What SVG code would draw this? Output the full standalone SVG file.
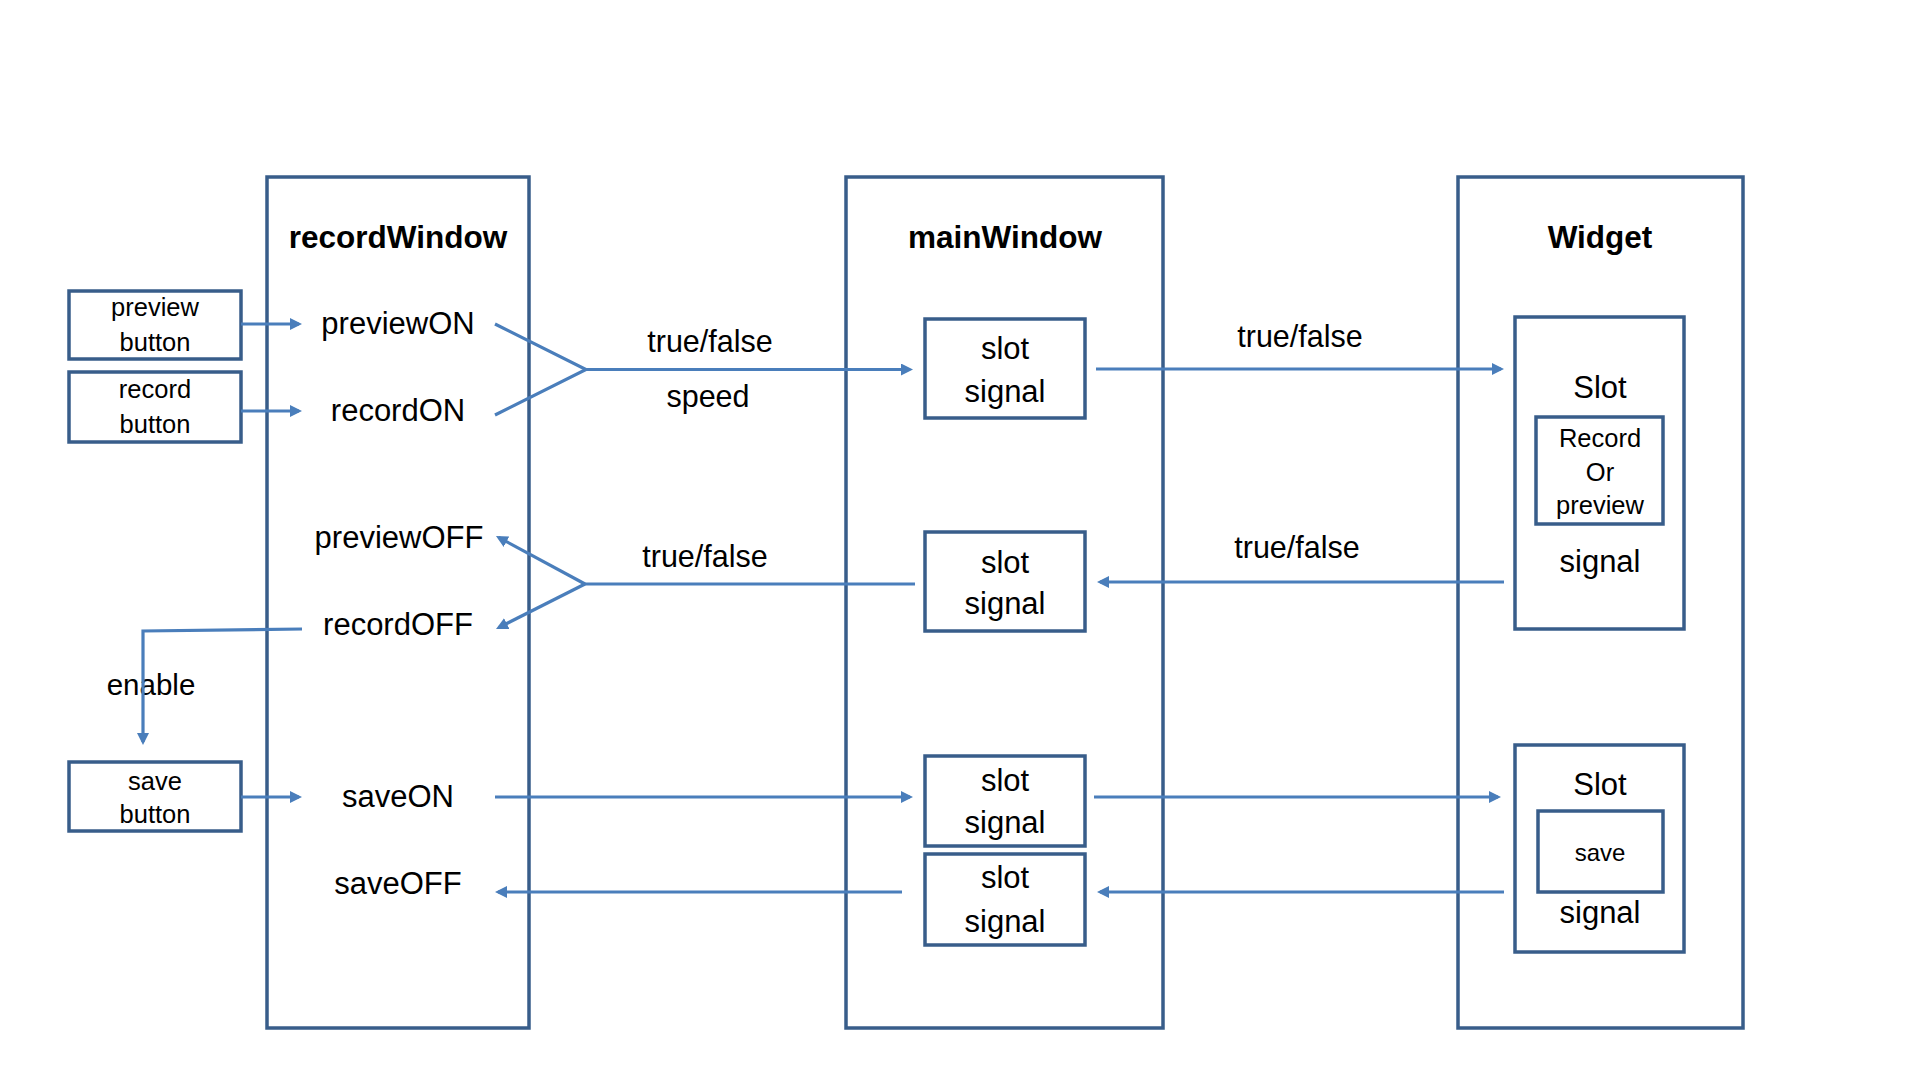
<svg xmlns="http://www.w3.org/2000/svg" width="1920" height="1080" viewBox="0 0 1920 1080">
<defs>
<style>
.box{fill:none;stroke:#385D8A;stroke-width:3.5}
.ln{fill:none;stroke:#4A7EBB;stroke-width:3.2}
.ar{marker-end:url(#ah)}
text{font-family:"Liberation Sans",Arial,sans-serif;fill:#000;text-anchor:middle}
.t{font-size:31.5px;font-weight:bold}
.l{font-size:31px}
.m{font-size:30.5px}
.s{font-size:25.5px}
.xs{font-size:24px}
</style>
<marker id="ah" markerUnits="userSpaceOnUse" markerWidth="12" markerHeight="12" refX="9" refY="6" orient="auto">
<path d="M0,0 L12,6 L0,12 z" fill="#4A7EBB"/>
</marker>
</defs>
<rect width="1920" height="1080" fill="#fff"/>

<g id="recordWindow">
<rect class="box" x="267" y="177" width="262" height="851"/>
<text class="t" x="398" y="248">recordWindow</text>
<text class="l" x="398" y="334">previewON</text>
<text class="l" x="398" y="421">recordON</text>
<text class="l" x="399" y="548">previewOFF</text>
<text class="l" x="398" y="635">recordOFF</text>
<text class="l" x="398" y="807">saveON</text>
<text class="l" x="398" y="894">saveOFF</text>
</g>

<g id="mainWindow">
<rect class="box" x="846" y="177" width="317" height="851"/>
<text class="t" x="1005" y="248">mainWindow</text>
</g>

<g id="Widget">
<rect class="box" x="1458" y="177" width="285" height="851"/>
<text class="t" x="1600" y="248">Widget</text>
</g>

<g id="previewButton">
<rect class="box" x="69" y="291" width="172" height="68"/>
<text class="s" x="155" y="316">preview</text>
<text class="s" x="155" y="351">button</text>
</g>
<g id="recordButton">
<rect class="box" x="69" y="372" width="172" height="70"/>
<text class="s" x="155" y="398">record</text>
<text class="s" x="155" y="433">button</text>
</g>
<g id="saveButton">
<rect class="box" x="69" y="762" width="172" height="69"/>
<text class="s" x="155" y="790">save</text>
<text class="s" x="155" y="823">button</text>
</g>

<g id="slot1">
<rect class="box" x="925" y="319" width="160" height="99"/>
<text class="l" x="1005" y="359">slot</text>
<text class="l" x="1005" y="402">signal</text>
</g>
<g id="slot2">
<rect class="box" x="925" y="532" width="160" height="99"/>
<text class="l" x="1005" y="573">slot</text>
<text class="l" x="1005" y="614">signal</text>
</g>
<g id="slot3">
<rect class="box" x="925" y="756" width="160" height="90"/>
<text class="l" x="1005" y="791">slot</text>
<text class="l" x="1005" y="833">signal</text>
</g>
<g id="slot4">
<rect class="box" x="925" y="854" width="160" height="91"/>
<text class="l" x="1005" y="888">slot</text>
<text class="l" x="1005" y="932">signal</text>
</g>

<g id="widgetSlot1">
<rect class="box" x="1515" y="317" width="169" height="312"/>
<text class="l" x="1600" y="398">Slot</text>
<rect class="box" x="1536" y="417" width="127" height="107"/>
<text class="s" x="1600" y="447">Record</text>
<text class="s" x="1600" y="481">Or</text>
<text class="s" x="1600" y="514">preview</text>
<text class="l" x="1600" y="572">signal</text>
</g>
<g id="widgetSlot2">
<rect class="box" x="1515" y="745" width="169" height="207"/>
<text class="l" x="1600" y="795">Slot</text>
<rect class="box" x="1538" y="811" width="125" height="81"/>
<text class="xs" x="1600" y="861">save</text>
<text class="l" x="1600" y="923">signal</text>
</g>

<g id="labels">
<text class="m" x="710" y="352">true/false</text>
<text class="m" x="708" y="407">speed</text>
<text class="m" x="705" y="567">true/false</text>
<text class="m" x="1300" y="347">true/false</text>
<text class="m" x="1297" y="558">true/false</text>
<text class="m" x="151" y="695" style="font-size:29.5px">enable</text>
</g>

<g id="connectors">
<line class="ln ar" x1="241" y1="324" x2="299" y2="324"/>
<line class="ln ar" x1="241" y1="411" x2="299" y2="411"/>
<polyline class="ln" points="495,324 586,369.5 495,415"/>
<line class="ln ar" x1="586" y1="369.5" x2="910" y2="369.5"/>
<line class="ln ar" x1="1096" y1="369" x2="1501" y2="369"/>
<line class="ln ar" x1="1504" y1="582" x2="1100" y2="582"/>
<line class="ln" x1="915" y1="584" x2="585" y2="584"/>
<line class="ln ar" x1="585" y1="584" x2="498.6" y2="537.4"/>
<line class="ln ar" x1="585" y1="584" x2="498.7" y2="627.6"/>
<polyline class="ln ar" points="302,629 143,631 143,742"/>
<line class="ln ar" x1="241" y1="797" x2="299" y2="797"/>
<line class="ln ar" x1="495" y1="797" x2="910" y2="797"/>
<line class="ln ar" x1="1094" y1="797" x2="1498" y2="797"/>
<line class="ln ar" x1="1504" y1="892" x2="1100" y2="892"/>
<line class="ln ar" x1="902" y1="892" x2="498" y2="892"/>
</g>
</svg>
